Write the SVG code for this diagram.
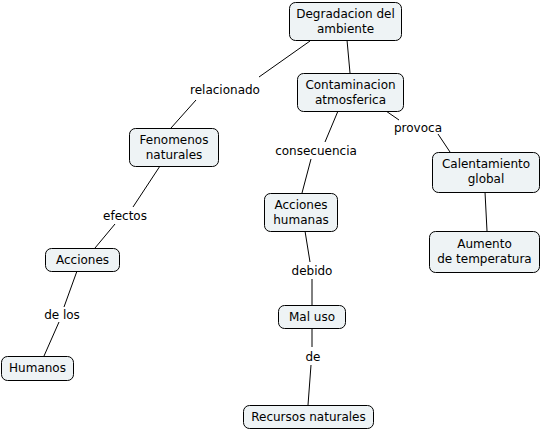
<svg xmlns="http://www.w3.org/2000/svg" width="541" height="432" viewBox="0 0 541 432">
<style>
.n rect{fill:#eef3f5;stroke:#000;stroke-width:1}
text{font-family:"DejaVu Sans",Verdana,sans-serif;font-size:12px;fill:#000;text-anchor:middle}
.c line{stroke:#000;stroke-width:1}
</style>
<rect width="541" height="432" fill="#fff"/>
<g class="c">
<line x1="310" y1="41" x2="259" y2="77"/>
<line x1="196" y1="100" x2="171" y2="128"/>
<line x1="347" y1="40" x2="350" y2="73"/>
<line x1="338" y1="111" x2="325" y2="142"/>
<line x1="311" y1="159" x2="302" y2="193"/>
<line x1="386" y1="111" x2="399" y2="120"/>
<line x1="438" y1="134" x2="450" y2="152"/>
<line x1="160" y1="166" x2="133" y2="207"/>
<line x1="115" y1="224" x2="95" y2="248"/>
<line x1="77" y1="271" x2="64" y2="307"/>
<line x1="59" y1="322" x2="44" y2="356"/>
<line x1="305" y1="231" x2="310" y2="262"/>
<line x1="312" y1="279" x2="312" y2="305"/>
<line x1="312" y1="328" x2="312" y2="347"/>
<line x1="311" y1="365" x2="308" y2="405"/>
<line x1="485" y1="192" x2="487" y2="231"/>
</g>
<g id="lbl">
<text x="225" y="94">relacionado</text>
<text x="316" y="155">consecuencia</text>
<text x="418" y="132">provoca</text>
<text x="125" y="220">efectos</text>
<text x="62" y="319">de los</text>
<text x="312" y="275">debido</text>
<text x="313" y="361">de</text>
</g>
<g id="n1" class="n"><rect x="289.500" y="2.500" width="112" height="38" rx="6"/><text x="345.500" y="18">Degradacion del</text><text x="345.500" y="33">ambiente</text></g>
<g id="n2" class="n"><rect x="297.500" y="73.500" width="106" height="38" rx="6"/><text x="350.500" y="89">Contaminacion</text><text x="350.500" y="104">atmosferica</text></g>
<g id="n3" class="n"><rect x="129.500" y="128.500" width="89" height="38" rx="6"/><text x="174" y="144">Fenomenos</text><text x="174" y="159">naturales</text></g>
<g id="n4" class="n"><rect x="432.500" y="152.500" width="107" height="40" rx="6"/><text x="486" y="168">Calentamiento</text><text x="486" y="183">global</text></g>
<g id="n5" class="n"><rect x="264.500" y="193.500" width="73" height="38" rx="6"/><text x="301" y="209">Acciones</text><text x="301" y="224">humanas</text></g>
<g id="n6" class="n"><rect x="429.500" y="231.500" width="110" height="41" rx="6"/><text x="484.500" y="248">Aumento</text><text x="484.500" y="263">de temperatura</text></g>
<g id="n7" class="n"><rect x="45.500" y="248.500" width="74" height="23" rx="6"/><text x="82.500" y="264">Acciones</text></g>
<g id="n8" class="n"><rect x="278.500" y="305.500" width="67" height="23" rx="6"/><text x="312" y="321">Mal uso</text></g>
<g id="n9" class="n"><rect x="1.500" y="356.500" width="72" height="24" rx="6"/><text x="37.500" y="372">Humanos</text></g>
<g id="n10" class="n"><rect x="243.500" y="405.500" width="130" height="23" rx="6"/><text x="308.500" y="421">Recursos naturales</text></g>
</svg>
